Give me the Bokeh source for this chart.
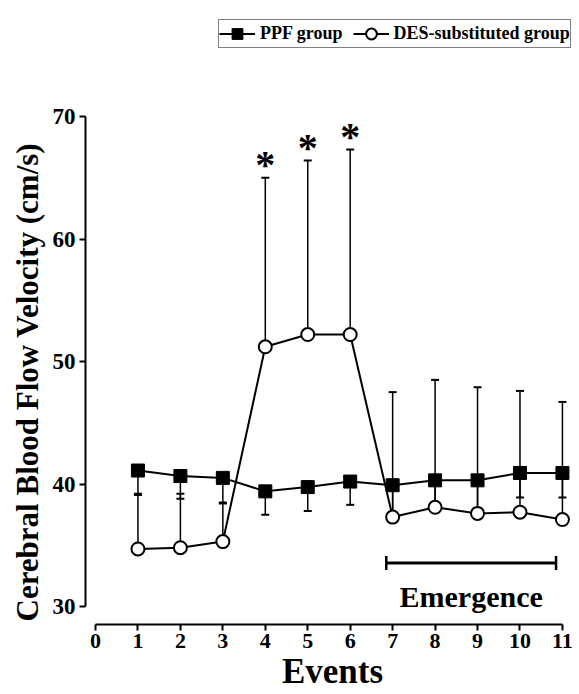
import math
from bokeh.plotting import figure
from bokeh.models import (ColumnDataSource, Whisker, TeeHead, FixedTicker, Range1d,
                          Label, Legend, LegendItem, Title)
from bokeh.core.properties import value
from bokeh.embed import file_html
from bokeh.resources import INLINE

# ---- data ----
events = [1, 2, 3, 4, 5, 6, 7, 8, 9, 10, 11]
ppf_mean = [41.1, 40.65, 40.5, 39.4, 39.75, 40.2, 39.9, 40.3, 40.3, 40.9, 40.9]
ppf_low = [39.1, 38.8, 38.5, 37.5, 37.8, 38.3, 37.6, 38.2, 37.9, 38.9, 38.9]
des_mean = [34.7, 34.8, 35.3, 51.2, 52.2, 52.2, 37.3, 38.1, 37.6, 37.7, 37.1]
des_high = [39.2, 39.2, 38.4, 65.0, 66.4, 67.3, 47.5, 48.5, 47.9, 47.6, 46.7]
star_events = [4, 5, 6]
x_ticks = [0, 1, 2, 3, 4, 5, 6, 7, 8, 9, 10, 11]
y_ticks = [30, 40, 50, 60, 70]
emergence_from = [6.85]
emergence_to = [10.85]
emergence_level = [33.56]

FONT = "Liberation Serif"

ppf_src = ColumnDataSource(dict(x=events, mean=ppf_mean, low=ppf_low))
des_src = ColumnDataSource(dict(x=events, mean=des_mean, high=des_high))
star_src = ColumnDataSource(dict(
    x=star_events,
    y=[des_high[events.index(e)] for e in star_events],
    t=["*"] * len(star_events)))

p = figure(width=579, height=694,
           x_range=Range1d(-0.2356, 11.402), y_range=Range1d(28.531, 78.0),
           output_backend="svg", toolbar_location=None,
           min_border_left=85, min_border_right=0,
           min_border_top=18, min_border_bottom=70)
p.outline_line_color = None
p.xgrid.visible = False
p.ygrid.visible = False

# axes
for ax in (p.xaxis[0], p.yaxis[0]):
    ax.axis_line_width = 2
    ax.axis_line_color = "black"
    ax.major_tick_line_width = 2
    ax.major_tick_line_color = "black"
    ax.major_tick_in = 0
    ax.major_tick_out = 6
    ax.minor_tick_line_color = None
    ax.major_label_text_font = FONT
    ax.major_label_text_font_style = "bold"
    ax.major_label_text_color = "black"
p.xaxis[0].major_label_text_font_size = "22px"
p.yaxis[0].major_label_text_font_size = "23px"
p.xaxis[0].ticker = FixedTicker(ticks=x_ticks)
p.yaxis[0].ticker = FixedTicker(ticks=y_ticks)
p.xaxis[0].bounds = (x_ticks[0], x_ticks[-1])
p.yaxis[0].bounds = (y_ticks[0], y_ticks[-1])
p.xaxis[0].major_label_standoff = 3
p.yaxis[0].major_label_standoff = 4

# axis titles as side-panel titles
p.add_layout(Title(text="Cerebral Blood Flow Velocity (cm/s)", align="left",
                   offset=3, standoff=10, text_font=FONT, text_font_style="bold",
                   text_font_size="31px", text_color="black"), "left")
p.add_layout(Title(text="Events", align="center", vertical_align="bottom",
                   standoff=-1, text_font=FONT, text_font_style="bold",
                   text_font_size="35px", text_color="black"), "below")

# error bars
ppf_err = Whisker(source=ppf_src, base="x", lower="low", upper="mean",
                  line_width=1.5, line_color="black",
                  upper_head=None,
                  lower_head=TeeHead(size=8, line_width=2, line_color="black"),
                  level="underlay")
des_err = Whisker(source=des_src, base="x", lower="mean", upper="high",
                  line_width=1.5, line_color="black",
                  lower_head=None,
                  upper_head=TeeHead(size=8, line_width=2, line_color="black"),
                  level="underlay")
p.add_layout(ppf_err)
p.add_layout(des_err)

# lines and markers
ppf_line = p.line("x", "mean", source=ppf_src, line_width=2, line_color="black")
des_line = p.line("x", "mean", source=des_src, line_width=2, line_color="black")
ppf_pts = p.scatter("x", "mean", source=ppf_src, marker="square", size=13,
                    fill_color="black", line_color="black")
des_pts = p.scatter("x", "mean", source=des_src, marker="circle", size=13,
                    fill_color="white", line_color="black", line_width=2)

# significance stars
p.text("x", "y", text="t", source=star_src, text_font=value(FONT),
       text_font_style="bold", text_font_size="40px", text_align="center",
       text_baseline="alphabetic", y_offset=-13, text_color="black")

# emergence bracket
em_src = ColumnDataSource(dict(base=emergence_level, lower=emergence_from, upper=emergence_to))
em = Whisker(source=em_src, base="base", lower="lower", upper="upper",
             dimension="width", line_width=3, line_color="black",
             lower_head=TeeHead(size=14, line_width=2.5, line_color="black"),
             upper_head=TeeHead(size=14, line_width=2.5, line_color="black"))
p.add_layout(em)
p.add_layout(Label(x=(emergence_from[0] + emergence_to[0]) / 2, y=30.79,
                   text="Emergence", text_font=FONT, text_font_style="bold",
                   text_font_size="30px", text_align="center",
                   text_baseline="alphabetic", text_color="black"))

# legend
legend = Legend(items=[LegendItem(label="PPF group", renderers=[ppf_line, ppf_pts]),
                       LegendItem(label="DES-substituted group", renderers=[des_line, des_pts])],
                orientation="horizontal", location=(133, 576), margin=0,
                padding=0, spacing=10, glyph_width=36, glyph_height=27,
                label_standoff=5, label_text_font=FONT,
                label_text_font_style="bold", label_text_font_size="18px",
                label_text_color="black",
                border_line_color="black", border_line_width=1.5,
                background_fill_color="white", background_fill_alpha=1.0)
p.add_layout(legend, "center")

open("out.html", "w").write(file_html(p, INLINE))
